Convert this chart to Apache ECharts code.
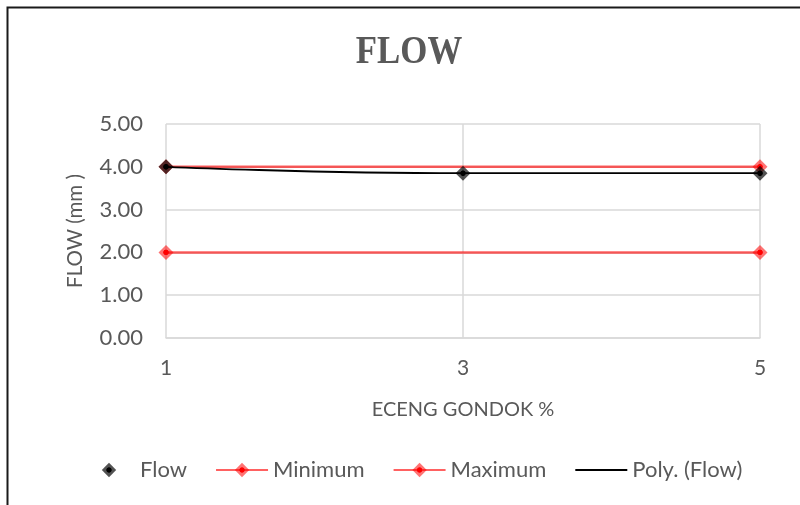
<!DOCTYPE html>
<html>
<head>
<meta charset="utf-8">
<script src="https://cdn.jsdelivr.net/npm/echarts@6/dist/echarts.min.js"></script>
<style>
  html, body { margin: 0; padding: 0; background: #fff; }
  #chart { width: 800px; height: 505px; }
</style>
</head>
<body>
<div id="chart"></div>
<script>
// Eceng gondok content (%) on the x axis
const categories = ['1', '3', '5'];
// Measured flow values (mm)
const flowValues = [4.00, 3.85, 3.85];
// Specification limits (mm); only the end points carry a marker
const minimumValues = [2, null, 2];
const maximumValues = [4, null, 4];
// Y axis ticks
const yMin = 0, yMax = 5, yStep = 1;

const textColor = '#595959';
const fontFamily = 'Lato, "Open Sans", sans-serif';
const redLine = 'rgba(255, 0, 0, 0.62)';

// Diamond marker fill: solid core with a translucent rim
function markerFill(core, rim) {
  return {
    type: 'radial', x: 0.5, y: 0.5, r: 0.5,
    colorStops: [
      { offset: 0, color: core },
      { offset: 0.32, color: core },
      { offset: 0.42, color: rim },
      { offset: 1, color: rim }
    ]
  };
}

const chart = echarts.init(document.getElementById('chart'), null, { renderer: 'canvas' });

chart.setOption({
  animation: false,
  backgroundColor: '#fff',
  graphic: [
    {
      type: 'rect',
      shape: { x: 7.5, y: 7.5, width: 1000, height: 1000 },
      style: { fill: 'none', stroke: '#1a1a1a', lineWidth: 2 },
      silent: true,
      z: 100
    },
    {
      // Chart title, set in a condensed bold serif
      type: 'text',
      x: 409,
      y: 52,
      scaleX: 0.85,
      style: {
        text: 'FLOW',
        font: 'bold 41px "Liberation Serif", serif',
        fill: textColor,
        align: 'center',
        verticalAlign: 'middle'
      },
      silent: true
    }
  ],
  legend: {
    data: [
      { name: 'Flow' },
      { name: 'Minimum' },
      { name: 'Maximum' },
      { name: 'Poly. (Flow)', itemStyle: { opacity: 0 } }
    ],
    left: 78,
    top: 454,
    itemWidth: 52,
    itemHeight: 18,
    itemGap: 28,
    textStyle: { fontFamily, fontSize: 22, color: textColor }
  },
  grid: { left: 166, right: 40, top: 124, bottom: 167 },
  xAxis: {
    type: 'category',
    data: categories,
    boundaryGap: false,
    name: 'ECENG GONDOK %',
    nameLocation: 'middle',
    nameGap: 62,
    nameTextStyle: { fontFamily, fontSize: 20, color: textColor },
    axisLine: { show: true, lineStyle: { color: '#d9d9d9', width: 1.5 } },
    axisTick: { show: false },
    axisLabel: { fontFamily, fontSize: 21, color: textColor, margin: 20 },
    splitLine: { show: true, lineStyle: { color: '#d9d9d9', width: 1.5 } }
  },
  yAxis: {
    type: 'value',
    min: yMin,
    max: yMax,
    interval: yStep,
    name: 'FLOW (mm )',
    nameLocation: 'middle',
    nameGap: 80,
    nameRotate: 90,
    nameTextStyle: { fontFamily, fontSize: 20.5, color: textColor },
    axisLine: { show: false },
    axisTick: { show: false },
    axisLabel: {
      fontFamily, fontSize: 22, color: textColor, margin: 23,
      formatter: v => v.toFixed(2)
    },
    splitLine: { show: true, lineStyle: { color: '#d9d9d9', width: 1.5 } }
  },
  series: [
    {
      name: 'Minimum',
      type: 'line',
      data: minimumValues,
      connectNulls: true,
      symbol: 'diamond',
      symbolSize: 15,
      lineStyle: { color: redLine, width: 2.5 },
      itemStyle: { color: markerFill('#ff0000', 'rgba(255, 0, 0, 0.55)') },
      z: 2
    },
    {
      name: 'Maximum',
      type: 'line',
      data: maximumValues,
      connectNulls: true,
      symbol: 'diamond',
      symbolSize: 15,
      lineStyle: { color: redLine, width: 2.5 },
      itemStyle: { color: markerFill('#ff0000', 'rgba(255, 0, 0, 0.55)') },
      z: 3
    },
    {
      // Second-order trend through the flow readings
      name: 'Poly. (Flow)',
      type: 'line',
      data: flowValues,
      smooth: 0.5,
      symbol: 'none',
      showSymbol: false,
      lineStyle: { color: '#000', width: 1.8 },
      itemStyle: { color: '#000' },
      z: 4
    },
    {
      name: 'Flow',
      type: 'line',
      data: flowValues,
      symbol: 'diamond',
      symbolSize: 15,
      lineStyle: { width: 0, opacity: 0 },
      itemStyle: { color: markerFill('#000', 'rgba(0, 0, 0, 0.68)') },
      z: 5
    }
  ]
});
</script>
</body>
</html>
